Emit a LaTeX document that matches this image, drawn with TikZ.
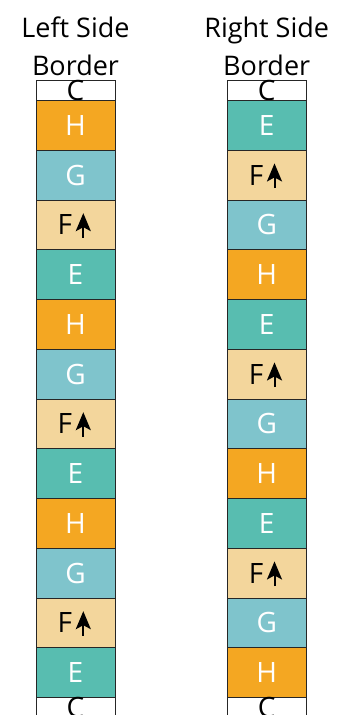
\documentclass[tikz,border=0pt]{standalone}
\usepackage{fontspec}
\setmainfont{Open Sans}
\usetikzlibrary{arrows.meta}
\definecolor{cH}{HTML}{F4A722}
\definecolor{cG}{HTML}{7FC4CC}
\definecolor{cF}{HTML}{F3D69C}
\definecolor{cE}{HTML}{58BDB0}
\newcommand{\Flabel}{\hbox to 0pt{\hss F\hskip 3.5pt}}
\tikzset{
  cell/.style={draw=black!85, line width=1pt, minimum width=79pt, minimum height=49.75pt, inner sep=0pt, anchor=north, font=\fontsize{28}{30}\selectfont},
  capcell/.style={draw=black!85, line width=1pt, fill=white, minimum width=79pt, minimum height=20pt, inner sep=0pt, anchor=north, font=\fontsize{28}{30}\selectfont, text=black},
  Hcell/.style={cell, fill=cH, text=white},
  Gcell/.style={cell, fill=cG, text=white},
  Ecell/.style={cell, fill=cE, text=white},
  Fcell/.style={cell, fill=cF, text=black},
  title/.style={align=center, anchor=base, font=\fontsize{27}{38}\selectfont},
  uparrow/.style={-{Stealth[length=18pt,width=15pt,inset=4pt]}, line width=2pt, black},
}
\begin{document}
\begin{tikzpicture}[x=1pt,y=-1pt]
\useasboundingbox (0,0) rectangle (349,715);
\clip (0,0) rectangle (349,715);
\node[title] (tl) at (75.5,75) {Left Side\\Border};
\node[title] (tr) at (266.7,75) {Right Side\\Border};
% left column
\node[capcell] (lc0) at (75.5,80) {C};
\foreach \k/\t [count=\i from 0] in {H/H,G/G,F/\Flabel,E/E,H/H,G/G,F/\Flabel,E/E,H/H,G/G,F/\Flabel,E/E} {
  \node[\k cell] (l\i) at (75.5,100+\i*49.75) {\t};
}
\node[capcell] (lc1) at (75.5,697) {C};
% right column
\node[capcell] (rc0) at (266.7,80) {C};
\foreach \k/\t [count=\i from 0] in {E/E,F/\Flabel,G/G,H/H,E/E,F/\Flabel,G/G,H/H,E/E,F/\Flabel,G/G,H/H} {
  \node[\k cell] (r\i) at (266.7,100+\i*49.75) {\t};
}
\node[capcell] (rc1) at (266.7,697) {C};
% arrows next to F
\foreach \n in {l2,l6,l10,r1,r5,r9} {
  \draw[uparrow] ([shift={(7.8,13)}]\n.center) -- ([shift={(7.8,-11.7)}]\n.center);
}
\end{tikzpicture}
\end{document}
